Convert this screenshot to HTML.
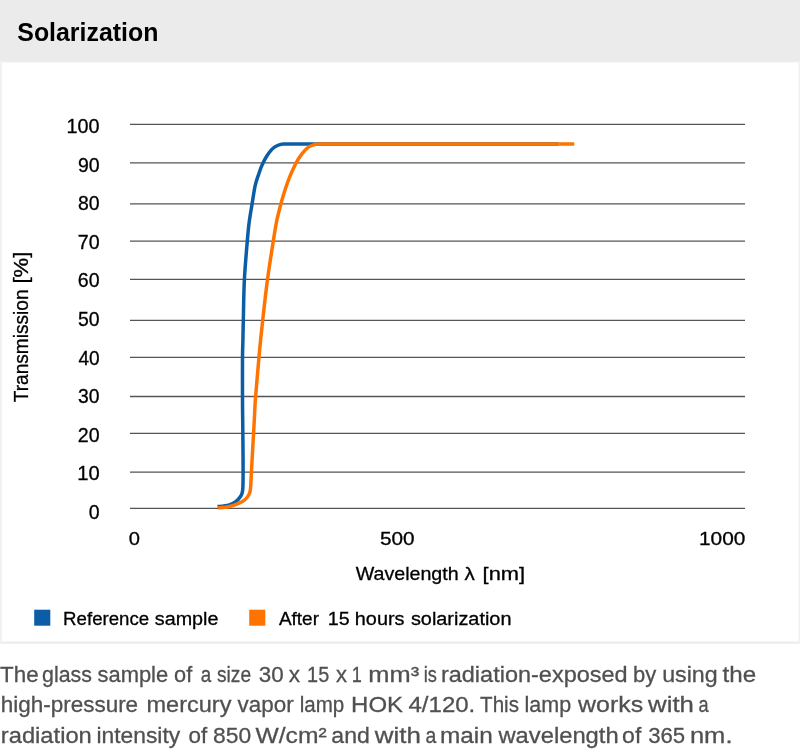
<!DOCTYPE html>
<html><head><meta charset="utf-8"><title>Solarization</title>
<style>
html,body{margin:0;padding:0;background:#fff;}
body{width:800px;height:756px;overflow:hidden;position:relative;font-family:"Liberation Sans",sans-serif;}
.hdr{position:absolute;left:0;top:0;width:800px;height:64px;background:linear-gradient(to bottom,#ebebeb 0,#ebebeb 61.3px,#ffffff 63.4px);}
.bl{position:absolute;left:0;top:63px;width:2.4px;height:580px;background:linear-gradient(to right,#f6f6f6 0,#ededed 1.2px,#ffffff 2.4px);}
.br{position:absolute;left:797.6px;top:63px;width:2.4px;height:580px;background:linear-gradient(to right,#ffffff 0,#ededed 1.2px,#f4f4f4 2.4px);}
.bb{position:absolute;left:0;top:640.8px;width:800px;height:3.4px;background:linear-gradient(to bottom,#ffffff 0,#ececec 1.1px,#ececec 2.2px,#ffffff 3.4px);}
svg{position:absolute;left:0;top:0;}
svg text{font-family:"Liberation Sans",sans-serif;white-space:pre;}
</style></head><body>
<div class="hdr"></div>
<div class="bl"></div><div class="br"></div><div class="bb"></div>
<svg width="800" height="756" viewBox="0 0 800 756">
<text x="17.3" textLength="141.1" lengthAdjust="spacingAndGlyphs" y="40.6" font-size="26.4" font-weight="bold" fill="#000">Solarization</text>
<g stroke="#555" stroke-width="1.3">
<line x1="130" x2="745" y1="124.3" y2="124.3"/>
<line x1="130" x2="745" y1="162.8" y2="162.8"/>
<line x1="130" x2="745" y1="203.9" y2="203.9"/>
<line x1="130" x2="745" y1="241.1" y2="241.1"/>
<line x1="130" x2="745" y1="279.4" y2="279.4"/>
<line x1="130" x2="745" y1="320.4" y2="320.4"/>
<line x1="130" x2="745" y1="357.3" y2="357.3"/>
<line x1="130" x2="745" y1="396.5" y2="396.5"/>
<line x1="130" x2="745" y1="433.3" y2="433.3"/>
<line x1="130" x2="745" y1="472.1" y2="472.1"/>
<line x1="130" x2="745" y1="508.4" y2="508.4"/>
</g>
<g font-size="19.8" fill="#000" stroke="#000" stroke-width="0.3">
<text x="66.6" y="133.2">100</text>
<text x="77.9" textLength="21.7" lengthAdjust="spacingAndGlyphs" y="171.8">90</text>
<text x="78.0" textLength="21.6" lengthAdjust="spacingAndGlyphs" y="210.3">80</text>
<text x="77.8" textLength="21.8" lengthAdjust="spacingAndGlyphs" y="248.8">70</text>
<text x="77.8" textLength="21.8" lengthAdjust="spacingAndGlyphs" y="287.4">60</text>
<text x="78.0" textLength="21.6" lengthAdjust="spacingAndGlyphs" y="325.9">50</text>
<text x="78.4" textLength="21.2" lengthAdjust="spacingAndGlyphs" y="364.5">40</text>
<text x="78.1" textLength="21.5" lengthAdjust="spacingAndGlyphs" y="403.0">30</text>
<text x="77.8" textLength="21.8" lengthAdjust="spacingAndGlyphs" y="441.6">20</text>
<text x="77.3" textLength="22.4" lengthAdjust="spacingAndGlyphs" y="480.1">10</text>
<text x="88.7" textLength="10.9" lengthAdjust="spacingAndGlyphs" y="518.7">0</text>
</g>
<g font-size="19.0" fill="#000" stroke="#000" stroke-width="0.3">
<text x="128.8" textLength="11.2" lengthAdjust="spacingAndGlyphs" y="545.3" font-size="18.8">0</text>
<text x="379.9" textLength="34.6" lengthAdjust="spacingAndGlyphs" y="545.3" font-size="18.8">500</text>
<text x="699.0" textLength="46.3" lengthAdjust="spacingAndGlyphs" y="545.3" font-size="18.8">1000</text>
<text y="579.9"><tspan x="355.7" textLength="103.0" lengthAdjust="spacingAndGlyphs">Wavelength</tspan> <tspan x="464.5" textLength="10.3" lengthAdjust="spacingAndGlyphs">λ</tspan> <tspan x="482.6" textLength="42.5" lengthAdjust="spacingAndGlyphs">[nm]</tspan></text>
<text y="0" font-size="20" transform="translate(28,401.9) rotate(-90)"><tspan x="-0.4" textLength="112.8" lengthAdjust="spacingAndGlyphs">Transmission</tspan> <tspan x="118.3" textLength="31.9" lengthAdjust="spacingAndGlyphs">[%]</tspan></text>
<text y="625.1" font-size="18.8"><tspan x="63.1" textLength="86.1" lengthAdjust="spacingAndGlyphs">Reference</tspan> <tspan x="154.8" textLength="63.6" lengthAdjust="spacingAndGlyphs">sample</tspan></text>
<text y="625.1" font-size="18.8"><tspan x="278.9" textLength="40.1" lengthAdjust="spacingAndGlyphs">After</tspan> <tspan x="327.8" textLength="21.8" lengthAdjust="spacingAndGlyphs">15</tspan> <tspan x="354.8" textLength="49.7" lengthAdjust="spacingAndGlyphs">hours</tspan> <tspan x="410.9" textLength="100.6" lengthAdjust="spacingAndGlyphs">solarization</tspan></text>
</g>
<path d="M217.6,506.6 C219.4,506.4 225.6,506.0 228.6,505.2 C231.6,504.4 233.7,503.1 235.7,501.6 C237.7,500.2 239.3,498.4 240.5,496.5 C241.7,494.6 242.3,494.1 242.7,490.0 C243.1,485.9 243.1,480.3 243.1,472.0 C243.1,463.7 243.0,448.7 242.9,440.0 C242.8,431.3 242.8,427.2 242.7,420.0 C242.6,412.8 242.5,407.0 242.5,396.5 C242.5,386.0 242.4,366.4 242.5,357.0 C242.6,347.6 242.8,346.1 242.9,340.0 C243.0,333.9 243.1,330.5 243.3,320.4 C243.6,310.3 243.7,292.6 244.4,279.4 C245.1,266.2 246.5,250.6 247.3,241.0 C248.1,231.4 248.4,228.0 249.2,222.0 C250.0,216.0 250.9,210.9 251.9,205.0 C252.9,199.1 253.9,191.5 255.0,186.3 C256.1,181.1 257.4,177.7 258.8,173.8 C260.1,169.8 261.6,165.9 263.1,162.8 C264.6,159.6 265.9,157.3 267.5,155.0 C269.1,152.7 270.8,150.3 272.5,148.8 C274.2,147.2 275.7,146.3 277.5,145.5 C279.3,144.7 281.0,144.4 283.1,144.1 C285.2,143.8 288.9,143.9 290.0,143.9 L558,143.9" fill="none" stroke="#0b5ea6" stroke-width="3.5" stroke-linejoin="round"/>
<path d="M218.1,507.9 C219.8,507.7 225.3,507.4 228.6,506.7 C231.9,506.0 235.3,504.9 238.1,503.7 C240.9,502.5 243.3,501.2 245.2,499.5 C247.1,497.8 248.5,495.6 249.4,493.6 C250.3,491.6 250.3,491.2 250.6,487.6 C250.9,484.0 251.0,479.9 251.4,472.0 C251.8,464.1 252.7,449.0 253.2,440.0 C253.7,431.0 254.0,425.2 254.4,418.0 C254.8,410.8 254.8,406.7 255.6,396.5 C256.4,386.3 258.2,366.4 259.0,357.0 C259.8,347.6 260.0,346.1 260.6,340.0 C261.2,333.9 261.6,330.5 262.7,320.4 C263.8,310.3 265.7,292.6 267.5,279.4 C269.3,266.2 271.8,250.6 273.3,241.0 C274.8,231.4 275.3,228.0 276.5,222.0 C277.7,216.0 279.2,210.3 280.6,205.0 C282.0,199.7 283.4,194.8 285.0,190.0 C286.6,185.2 288.1,180.8 290.0,176.2 C291.9,171.7 294.2,166.6 296.2,162.8 C298.3,158.9 300.4,155.7 302.5,153.1 C304.6,150.5 306.9,148.3 308.8,146.9 C310.6,145.5 312.2,145.3 313.8,144.8 C315.3,144.3 316.2,144.2 318.1,144.1 C320.0,143.9 323.9,143.9 325.0,143.9 L574.2,143.9" fill="none" stroke="#ff7400" stroke-width="3.5" stroke-linejoin="round"/>
<rect x="34.2" y="609.7" width="16.1" height="16" fill="#0b5ea6"/>
<rect x="249.2" y="609.7" width="16.1" height="16" fill="#ff7400"/>
<g font-size="22.8" fill="#505050" stroke="#505050" stroke-width="0.3">
<text y="682"><tspan x="0.1" textLength="38.5" lengthAdjust="spacingAndGlyphs">The</tspan> <tspan x="42.1" textLength="49.9" lengthAdjust="spacingAndGlyphs">glass</tspan> <tspan x="97.5" textLength="70.7" lengthAdjust="spacingAndGlyphs">sample</tspan> <tspan x="174.1" textLength="18.1" lengthAdjust="spacingAndGlyphs">of</tspan> <tspan x="200.7" textLength="10.5" lengthAdjust="spacingAndGlyphs">a</tspan> <tspan x="217.0" textLength="34.1" lengthAdjust="spacingAndGlyphs">size</tspan> <tspan x="258.7" textLength="24.9" lengthAdjust="spacingAndGlyphs">30</tspan> <tspan x="288.8" textLength="11.3" lengthAdjust="spacingAndGlyphs">x</tspan> <tspan x="307.1" textLength="22.1" lengthAdjust="spacingAndGlyphs">15</tspan> <tspan x="335.9" textLength="11.0" lengthAdjust="spacingAndGlyphs">x</tspan> <tspan x="351.8" textLength="10.1" lengthAdjust="spacingAndGlyphs">1</tspan> <tspan x="368.3" textLength="50.8" lengthAdjust="spacingAndGlyphs">mm³</tspan> <tspan x="423.8" textLength="13.2" lengthAdjust="spacingAndGlyphs">is</tspan> <tspan x="440.9" textLength="186.8" lengthAdjust="spacingAndGlyphs">radiation-exposed</tspan> <tspan x="633.1" textLength="23.2" lengthAdjust="spacingAndGlyphs">by</tspan> <tspan x="662.2" textLength="55.5" lengthAdjust="spacingAndGlyphs">using</tspan> <tspan x="722.6" textLength="33.6" lengthAdjust="spacingAndGlyphs">the</tspan></text>
<text y="712"><tspan x="0.8" textLength="137.3" lengthAdjust="spacingAndGlyphs">high-pressure</tspan> <tspan x="146.5" textLength="84.9" lengthAdjust="spacingAndGlyphs">mercury</tspan> <tspan x="237.5" textLength="56.1" lengthAdjust="spacingAndGlyphs">vapor</tspan> <tspan x="299.7" textLength="44.5" lengthAdjust="spacingAndGlyphs">lamp</tspan> <tspan x="351.1" textLength="51.9" lengthAdjust="spacingAndGlyphs">HOK</tspan> <tspan x="408.5" textLength="66.8" lengthAdjust="spacingAndGlyphs">4/120.</tspan> <tspan x="480.1" textLength="38.9" lengthAdjust="spacingAndGlyphs">This</tspan> <tspan x="524.6" textLength="46.6" lengthAdjust="spacingAndGlyphs">lamp</tspan> <tspan x="578.1" textLength="65.1" lengthAdjust="spacingAndGlyphs">works</tspan> <tspan x="648.1" textLength="45.8" lengthAdjust="spacingAndGlyphs">with</tspan> <tspan x="698.6" textLength="10.1" lengthAdjust="spacingAndGlyphs">a</tspan></text>
<text y="742.5"><tspan x="0.8" textLength="91.0" lengthAdjust="spacingAndGlyphs">radiation</tspan> <tspan x="96.5">intensity</tspan> <tspan x="188.6" textLength="18.7" lengthAdjust="spacingAndGlyphs">of</tspan> <tspan x="213.1">850</tspan> <tspan x="255.5" textLength="71.2" lengthAdjust="spacingAndGlyphs">W/cm²</tspan> <tspan x="331.3" textLength="38.5" lengthAdjust="spacingAndGlyphs">and</tspan> <tspan x="374.8" textLength="46.1" lengthAdjust="spacingAndGlyphs">with</tspan> <tspan x="425.4" textLength="10.8" lengthAdjust="spacingAndGlyphs">a</tspan> <tspan x="440.0" textLength="52.8" lengthAdjust="spacingAndGlyphs">main</tspan> <tspan x="498.4" textLength="120.3" lengthAdjust="spacingAndGlyphs">wavelength</tspan> <tspan x="622.1" textLength="19.2" lengthAdjust="spacingAndGlyphs">of</tspan> <tspan x="648.2" textLength="37.0" lengthAdjust="spacingAndGlyphs">365</tspan> <tspan x="689.9" textLength="42.6" lengthAdjust="spacingAndGlyphs">nm.</tspan></text>
</g>
</svg>
</body></html>
